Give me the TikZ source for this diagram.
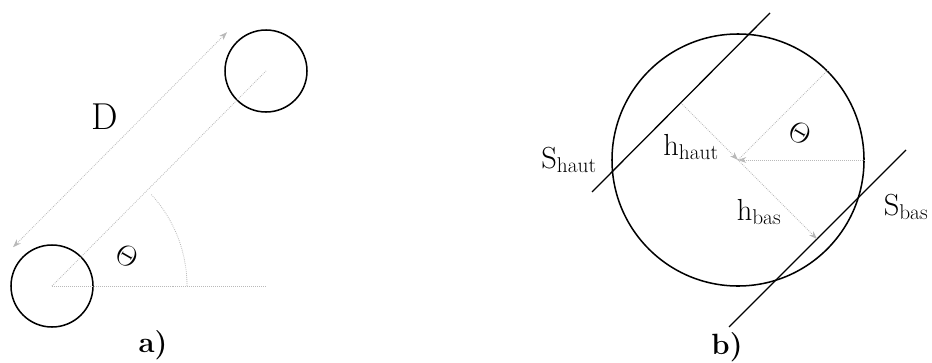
\documentclass[tikz,border=0pt]{standalone}
\usetikzlibrary{arrows.meta, positioning, calc}

\begin{document}
\begin{tikzpicture}[x=0.03cm, y=-0.03cm,
    cercle/.style={draw, circle, line width=1.3pt, inner sep=0pt},
    trait/.style={line width=1.1pt},
    guide/.style={draw=gray!55, densely dotted, line width=0.7pt},
    fleche/.style={guide, -{Stealth[length=7pt, width=5pt, fill=gray!55]}},
    etiq/.style={font=\fontsize{26}{30}\selectfont, inner sep=0pt},
    angle/.style={font=\fontsize{30}{34}\selectfont, inner sep=0pt, rotate=-30},
    titre/.style={font=\fontsize{25}{28}\selectfont\bfseries, inner sep=0pt}
]
    \useasboundingbox (0,0) rectangle (932,362);

    % a) deux particules
    \node[cercle, minimum size=2.46cm] (p1) at (52,286) {};
    \node[cercle, minimum size=2.46cm] (p2) at (266,71) {};
    \coordinate (hor) at (267,286);
    \coordinate (d1) at ($(p1.center)!1.65cm!90:(p2.center)$);
    \coordinate (d2) at ($(p2.center)!1.65cm!-90:(p1.center)$);

    \draw[guide] (p1.center) -- (p2.center);
    \draw[guide] (p1.center) -- (hor);
    \draw[guide, {Stealth[length=7pt, width=5pt, fill=gray!55]}-{Stealth[length=7pt, width=5pt, fill=gray!55]}] (d1) -- (d2);
    \draw[guide] ($(p1.center)+(135,0)$) arc[start angle=0, end angle=43, radius=4.05cm];

    \node[etiq, font=\fontsize{32}{36}\selectfont] (D) at (105,117) {D};
    \node[angle] (ta) at (127,256) {$\Theta$};
    \node[titre] (la) at (153,345) {a)};

    % b) particule et plans
    \node[cercle, minimum size=7.56cm] (rond) at (738,160) {};
    \coordinate (pied1) at (681,103);
    \coordinate (pied2) at (817,239);
    \coordinate (sh1) at (592,192);
    \coordinate (sh2) at (770,13);
    \coordinate (sb1) at (729,327);
    \coordinate (sb2) at (906,150);

    \draw[trait] (sh1) -- (sh2);
    \draw[trait] (sb1) -- (sb2);
    \draw[fleche] (pied1) -- (rond.center);
    \draw[fleche] (rond.east) -- (rond.center);
    \draw[guide] (rond.45) -- (rond.center);
    \draw[fleche] (rond.center) -- (pied2);

    \node[etiq] (shaut) at (569,160) {S\textsubscript{haut}};
    \node[etiq] (hhaut) at (691,147) {h\textsubscript{haut}};
    \node[etiq] (hbas) at (759,212) {h\textsubscript{bas}};
    \node[etiq] (sbas) at (906,207) {S\textsubscript{bas}};
    \node[angle] (tb) at (800,133) {$\Theta$};
    \node[titre] (lb) at (727,347) {b)};
\end{tikzpicture}
\end{document}
